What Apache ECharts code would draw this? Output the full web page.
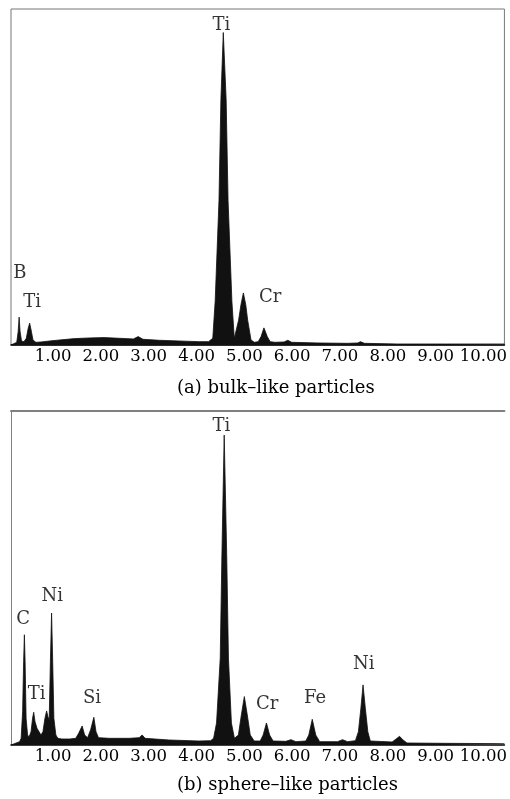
<!DOCTYPE html>
<html>
<head>
<meta charset="utf-8">
<script src="https://cdn.jsdelivr.net/npm/echarts@6/dist/echarts.min.js"></script>
<style>
  html, body { margin: 0; padding: 0; background: #fff; }
  #chart { width: 510px; height: 799px; }
</style>
</head>
<body>
<div id="chart"></div>
<script>
// energy (keV) and counts (% of full scale)
const energyA = [0.12, 0.24, 0.27, 0.29, 0.31, 0.34, 0.39, 0.44, 0.48, 0.51, 0.54, 0.58, 0.64, 0.75, 0.93,
  1.14, 1.45, 1.76, 2.07, 2.38, 2.68, 2.78, 2.88, 3.22, 3.63, 4.04, 4.25, 4.34, 4.39, 4.47, 4.51, 4.56,
  4.62, 4.66, 4.74, 4.79, 4.82, 4.88, 4.93, 4.98, 5.03, 5.07, 5.14, 5.21, 5.29, 5.35, 5.41, 5.48, 5.54,
  5.64, 5.83, 5.91, 5.99, 6.54, 7.16, 7.37, 7.43, 7.51, 8.2, 9.23, 10.44];
const countsA = [0, 0.8, 4, 8.3, 4, 1.2, 1.0, 2, 5, 6.5, 4.5, 1.5, 0.8, 0.9, 1.2,
  1.5, 1.9, 2.1, 2.2, 2.0, 1.8, 2.5, 1.7, 1.4, 1.2, 1.0, 1.0, 2, 13, 43, 73, 93,
  73, 43, 13, 2, 1.5, 7.4, 12, 15.5, 12, 7.4, 1.5, 0.8, 1.0, 2.5, 5.1, 2.5, 1.0,
  0.8, 0.9, 1.4, 0.8, 0.6, 0.5, 0.6, 1.0, 0.5, 0.3, 0.3, 0.3];

const energyB = [0.12, 0.30, 0.332, 0.363, 0.384, 0.40, 0.415, 0.436, 0.467, 0.498, 0.539, 0.571, 0.595,
  0.622, 0.664, 0.705, 0.747, 0.788, 0.830, 0.865, 0.892, 0.919, 0.944, 0.969, 0.992, 1.017, 1.058, 1.10,
  1.183, 1.349, 1.473, 1.535, 1.608, 1.66, 1.722, 1.784, 1.853, 1.898, 1.95, 2.178, 2.593, 2.801, 2.863,
  2.925, 3.423, 4.046, 4.295, 4.357, 4.419, 4.496, 4.53, 4.579, 4.633, 4.668, 4.73, 4.793, 4.834, 4.876,
  4.938, 5.0, 5.062, 5.124, 5.207, 5.332, 5.394, 5.463, 5.529, 5.602, 5.871, 5.975, 6.079, 6.286, 6.349,
  6.421, 6.494, 6.577, 6.95, 7.054, 7.158, 7.324, 7.386, 7.438, 7.483, 7.531, 7.583, 7.635, 8.091, 8.174,
  8.247, 8.32, 8.402, 9.232, 10.44];
const countsB = [0, 1.0, 2, 10, 25, 33, 25, 8, 3, 2.4, 4, 8, 9.8,
  7, 5, 4.5, 3, 4, 8, 10.2, 8.5, 7.5, 25, 39.5, 25, 8, 3, 2,
  1.8, 1.8, 2.0, 3.5, 5.7, 3, 2.2, 4.5, 8.3, 4, 2.2, 2.0, 2.0, 2.2, 3.0,
  2.0, 1.5, 1.2, 1.3, 2, 6.6, 26, 56, 92.8, 56, 26, 6.6, 2, 1.8, 3,
  9, 14.5, 9, 3, 1.2, 1.2, 3, 6.6, 3, 1.2, 1.1, 1.6, 1.0, 1.2, 3,
  7.7, 3, 1.0, 1.0, 1.6, 1.0, 1.3, 4, 11, 18, 11, 4, 1.2, 0.9, 1.8,
  2.6, 1.5, 0.6, 0.5, 0.4];

const tickValues = [1, 2, 3, 4, 5, 6, 7, 8, 9, 10];

const peakNamesA = ["Ti", "B", "Ti", "Cr"];
const peakXA = [4.52, 0.305, 0.56, 5.54];
const peakYA = [95.2, 21.3, 12.8, 14.1];

const peakNamesB = ["Ti", "C", "Ni", "Ti", "Si", "Cr", "Fe", "Ni"];
const peakXB = [4.52, 0.373, 0.985, 0.658, 1.815, 5.48, 6.48, 7.50];
const peakYB = [95.4, 37.7, 44.6, 15.3, 14.1, 12.3, 14.1, 24.3];

const serif = "'DejaVu Serif', 'Liberation Serif', serif";
const ink = "#111";

function pairs(xs, ys) {
  return xs.map((x, i) => [x, ys[i]]);
}
function peaks(names, xs, ys) {
  return names.map((n, i) => ({ name: n, value: [xs[i], ys[i]] }));
}

const chart = echarts.init(document.getElementById("chart"));

const xBase = {
  type: "value",
  min: 0.12,
  max: 10.44,
  axisLine: { show: true, lineStyle: { color: "#000", width: 1.5 } },
  axisTick: { show: false },
  splitLine: { show: false },
  axisLabel: {
    customValues: tickValues,
    formatter: (v) => v.toFixed(2),
    fontFamily: serif,
    fontSize: 16.5,
    color: "#000",
    margin: 3,
  },
};

const captionStyle = { fontFamily: serif, fontSize: 18, fontWeight: "normal", color: "#000" };
const peakLabel = { show: true, position: "inside", formatter: "{b}", fontFamily: serif, fontSize: 18, color: "#000" };

const option = {
  animation: false,
  title: [
    { text: "(a) bulk–like particles", left: 177, top: 379, padding: 0, textStyle: captionStyle },
    { text: "(b) sphere–like particles", left: 177, top: 776, padding: 0, textStyle: captionStyle },
  ],
  grid: [
    { left: 11, top: 9, width: 497, height: 336, show: true, borderColor: "#777", borderWidth: 1 },
    { left: 11, top: 411, width: 497, height: 334 },
  ],
  xAxis: [
    Object.assign({ gridIndex: 0 }, xBase),
    Object.assign({ gridIndex: 1 }, xBase),
    // top border of panel (b)
    {
      gridIndex: 1, type: "value", position: "top", min: 0.12, max: 10.44,
      axisLine: { show: true, lineStyle: { color: "#808080", width: 2 } },
      axisTick: { show: false }, axisLabel: { show: false }, splitLine: { show: false },
    },
  ],
  yAxis: [
    {
      gridIndex: 0, type: "value", min: 0, max: 100,
      axisLine: { show: false }, axisTick: { show: false }, axisLabel: { show: false }, splitLine: { show: false },
    },
    {
      gridIndex: 1, type: "value", min: 0, max: 100,
      axisLine: { show: true, lineStyle: { color: "#808080", width: 1 } },
      axisTick: { show: false }, axisLabel: { show: false }, splitLine: { show: false },
    },
  ],
  series: [
    {
      type: "line", xAxisIndex: 0, yAxisIndex: 0,
      data: pairs(energyA, countsA),
      symbol: "none", smooth: false,
      lineStyle: { color: ink, width: 0.8 },
      areaStyle: { color: ink, opacity: 1 },
    },
    {
      type: "line", xAxisIndex: 1, yAxisIndex: 1,
      data: pairs(energyB, countsB),
      symbol: "none", smooth: false,
      lineStyle: { color: ink, width: 0.8 },
      areaStyle: { color: ink, opacity: 1 },
    },
    {
      type: "scatter", xAxisIndex: 0, yAxisIndex: 0,
      data: peaks(peakNamesA, peakXA, peakYA),
      symbolSize: 0,
      label: peakLabel,
    },
    {
      type: "scatter", xAxisIndex: 1, yAxisIndex: 1,
      data: peaks(peakNamesB, peakXB, peakYB),
      symbolSize: 0,
      label: peakLabel,
    },
  ],
};

chart.setOption(option);
</script>
</body>
</html>
